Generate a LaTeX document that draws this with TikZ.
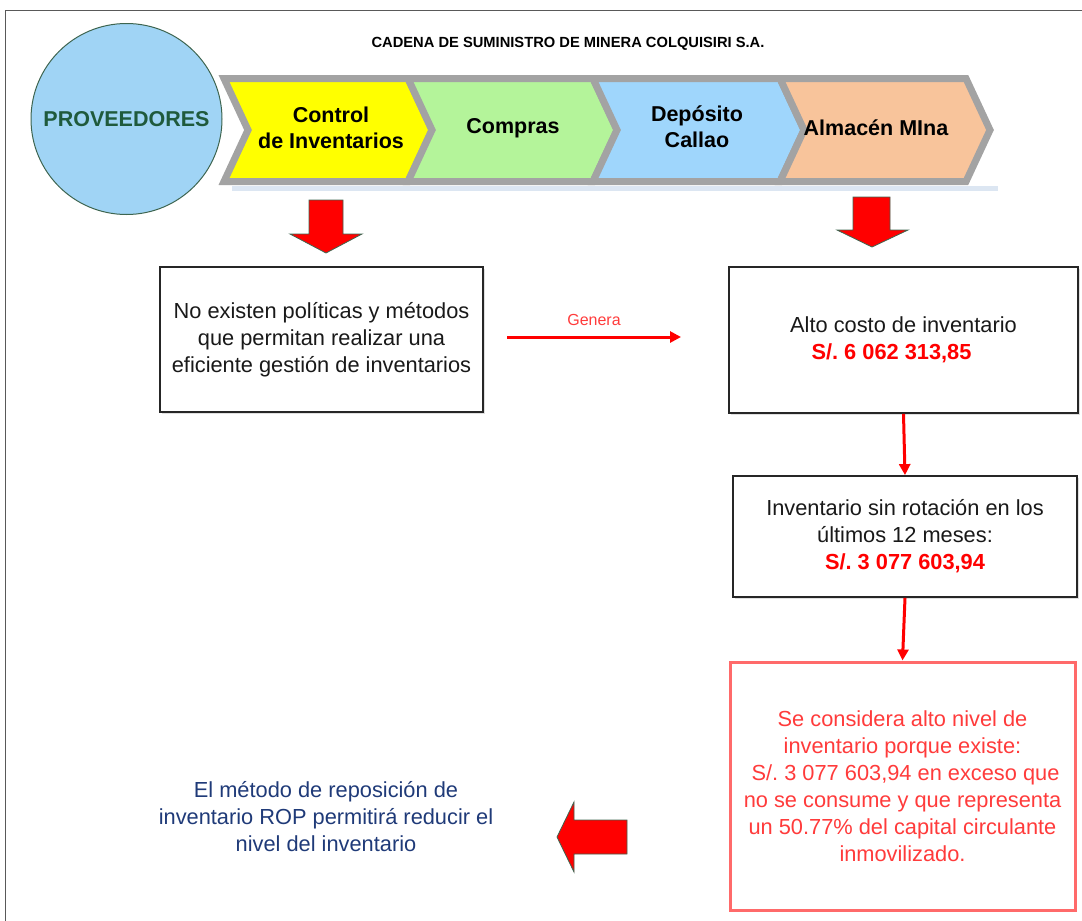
\documentclass[tikz,border=0pt]{standalone}
\usepackage{fontspec}
\setmainfont{Liberation Sans}
\usetikzlibrary{arrows.meta,shadows,calc}
\frenchspacing
\definecolor{cyel}{HTML}{FFFF00}
\definecolor{cgrn}{HTML}{B4F49A}
\definecolor{cblu}{HTML}{9FD6FC}
\definecolor{cora}{HTML}{F8C49B}
\definecolor{cband}{HTML}{A3A3A3}
\definecolor{cprov}{HTML}{1F5A3C}
\definecolor{ccirc}{HTML}{A0D4F5}
\definecolor{cbdr}{HTML}{3E6550}
\definecolor{cnavy}{HTML}{1F3A78}
\definecolor{cred}{HTML}{FF0000}
\definecolor{cpink}{HTML}{FF3B3B}
\definecolor{cpinkbd}{HTML}{FF6A6A}
\definecolor{cshad}{HTML}{DCE6F2}
\begin{document}
\begin{tikzpicture}[x=1pt,y=-1pt,
  body/.style={font=\fontsize{21.8}{27}\selectfont, align=center, text=black!90},
  chevlabel/.style={font=\bfseries\fontsize{21.5}{26}\selectfont, align=center, text=black},
  chev/.style={draw=cband, line width=7pt, line join=miter},
  blackbox/.style={draw=black!85, line width=1.8pt, fill=white, inner sep=0pt,
     drop shadow={shadow xshift=2pt, shadow yshift=-2pt, opacity=0.25}},
  redbox/.style={draw=cpinkbd, line width=3pt, fill=white, inner sep=0pt,
     drop shadow={shadow xshift=2pt, shadow yshift=-2pt, opacity=0.2}},
  redarr/.style={draw=cred, line width=3pt, -{Triangle[length=11pt,width=11pt]}},
  blockarr/.style={fill=cred, draw=cbdr, line width=0.8pt, line join=miter}
]
\useasboundingbox (0,0) rectangle (1082,921);
% frame
\draw[black!65, line width=1pt] (1082,10) -- (5,10) -- (5,921);
% title
\node (title) at (568,44) {\bfseries\fontsize{14.7}{17}\selectfont CADENA DE SUMINISTRO DE MINERA COLQUISIRI S.A.};
% band shadow
\fill[cshad] (232,186) -- (998,186) -- (998,191) -- (232,191) -- cycle;
% chevrons
\path[chev, fill=cyel] (224,78.5) -- (408,78.5) -- (432,130) -- (408,181.5) -- (224,181.5) -- (248,130) -- cycle;
\path[chev, fill=cgrn] (408,78.5) -- (593,78.5) -- (617,130) -- (593,181.5) -- (408,181.5) -- (432,130) -- cycle;
\path[chev, fill=cblu] (593,78.5) -- (780,78.5) -- (804,130) -- (780,181.5) -- (593,181.5) -- (617,130) -- cycle;
\path[chev, fill=cora] (780,78.5) -- (966,78.5) -- (990,130) -- (966,181.5) -- (780,181.5) -- (804,130) -- cycle;
\node[chevlabel] (c1) at (331,128) {Control\\de Inventarios};
\node[chevlabel] (c2) at (513,128) {Compras};
\node[chevlabel] (c3) at (697,127) {Depósito\\Callao};
\node[chevlabel] (c4) at (876,128) {Almacén MIna};
% circle
\node[circle, draw=cbdr, line width=1pt, fill=ccirc, minimum size=191pt, inner sep=0pt,
      font=\bfseries\fontsize{21.5}{26}\selectfont, text=cprov] (prov) at (126.5,119) {PROVEEDORES};
% block arrows down
\path[blockarr] (309,200) -- (343,200) -- (343,234) -- (362,234) -- (326,253) -- (290,234) -- (309,234) -- cycle;
\path[blockarr] (853,197) -- (890,197) -- (890,230) -- (908,230) -- (872,247) -- (837,230) -- (853,230) -- cycle;
% boxes
\node[blackbox, body, minimum width=323pt, minimum height=145pt] (b1) at (321.5,339.5)
  {No existen políticas y métodos\\que permitan realizar una\\eficiente gestión de inventarios};
\node[blackbox, body, minimum width=349pt, minimum height=146pt] (b2) at (903.5,340)
  {Alto costo de inventario\\{\color{cred}\bfseries S/. 6 062 313,85}\hspace*{24pt}};
\node[blackbox, body, minimum width=344pt, minimum height=121pt] (b3) at (905,536.5)
  {Inventario sin rotación en los\\últimos 12 meses:\\{\color{cred}\bfseries S/. 3 077 603,94}};
\node[redbox, body, text=cpink, minimum width=345pt, minimum height=248pt] (b4) at (902.5,786)
  {Se considera alto nivel de\\inventario porque existe:\\\ S/. 3 077 603,94 en exceso que\\no se consume y que representa\\un 50.77\% del capital circulante\\inmovilizado.};
% connectors
\draw[redarr] (b2.south) -- (b3.north);
\draw[redarr] (b3.south) -- (b4.north);
\coordinate (g1) at (507,337);
\coordinate (g2) at (681,337);
\draw[redarr] (g1) -- (g2);
\node[text=cpink, font=\fontsize{16}{19}\selectfont] (gen) at (594,320) {Genera};
% left block arrow
\path[blockarr] (557,837) -- (574,802) -- (574,820) -- (627,820) -- (627,854) -- (574,854) -- (574,872) -- cycle;
% conclusion text
\node[body, text=cnavy] (concl) at (326,817)
  {El método de reposición de\\inventario ROP permitirá reducir el\\nivel del inventario};
\end{tikzpicture}
\end{document}
